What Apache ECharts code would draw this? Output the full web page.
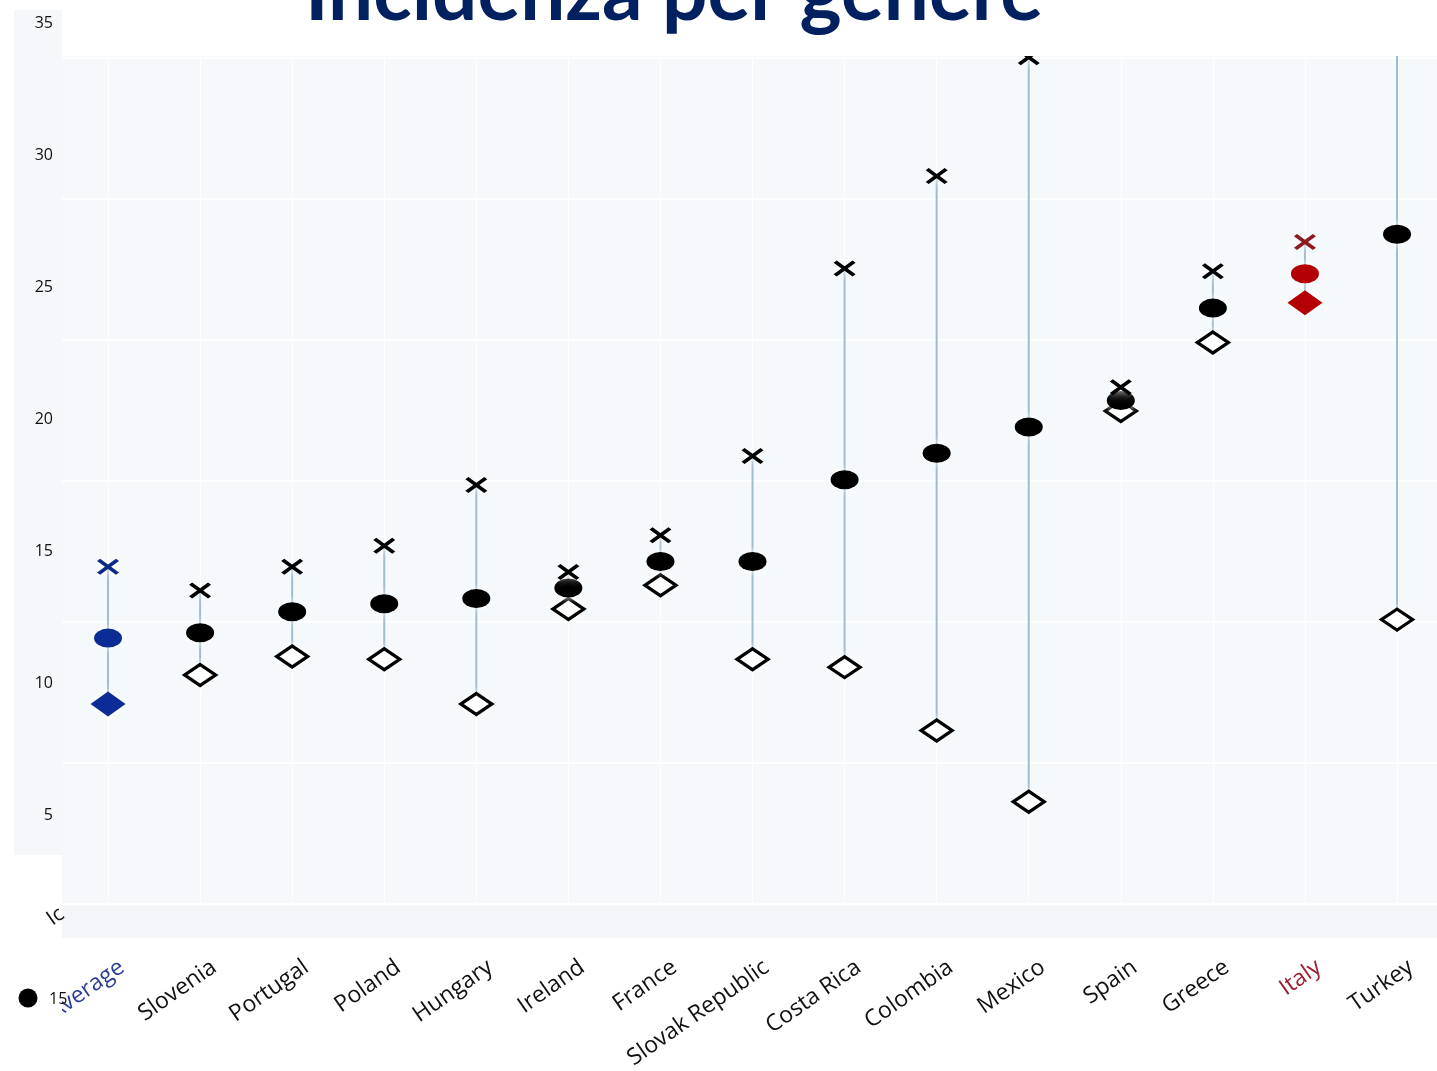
<!DOCTYPE html>
<html>
<head>
<meta charset="utf-8">
<title>Incidenza per genere</title>
<script src="https://cdn.jsdelivr.net/npm/echarts@6/dist/echarts.min.js"></script>
<style>
  html, body { margin: 0; padding: 0; background: #ffffff; }
  #chart { width: 1437px; height: 1071px; }
</style>
</head>
<body>
<div id="chart"></div>
<script>
// Countries, ordered by total incidence
const countries = ['Average', 'Slovenia', 'Portugal', 'Poland', 'Hungary', 'Ireland', 'France',
  'Slovak Republic', 'Costa Rica', 'Colombia', 'Mexico', 'Spain', 'Greece', 'Italy', 'Turkey'];

// Men (cross), total (dot), women (diamond)
const maleValues   = [14.4, 13.5, 14.4, 15.2, 17.5, 14.2, 15.6, 18.6, 25.7, 29.2, 33.7, 21.2, 25.6, 26.7, 41.8];
const totalValues  = [11.7, 11.9, 12.7, 13.0, 13.2, 13.6, 14.6, 14.6, 17.7, 18.7, 19.7, 20.7, 24.2, 25.5, 27.0];
const femaleValues = [ 9.2, 10.3, 11.0, 10.9,  9.2, 12.8, 13.7, 10.9, 10.6,  8.2,  5.5, 20.3, 22.9, 24.4, 12.4];

// Value-axis tick labels
const yTickLabels = [5, 10, 15, 20, 25, 30, 35];

// Highlighted categories and their colours
const highlight = {
  'Average': { male: '#0d2b85', total: '#0b2c94', female: '#0b2c94', label: '#2b3e91' },
  'Italy':   { male: '#8c1a1f', total: '#b40004', female: '#b40004', label: '#9c1c30' }
};

const CROSS = 'path://M0,14 L14,0 L50,36 L86,0 L100,14 L64,50 L100,86 L86,100 L50,64 L14,100 L0,86 L36,50 Z';
const halo = { opacity: 1, shadowBlur: 9, shadowColor: 'rgba(255,255,255,1)' };
const labelFont = '"Open Sans", "Noto Sans", sans-serif';

// Horizontal layout: one category band every 92.07 px, first band starting at x = 62
const PLOT_LEFT = 62;
const PLOT_RIGHT = 1437;
const BAND = 92.07;
const xMaxData = (PLOT_RIGHT - PLOT_LEFT) / BAND - 0.5;   // index at the right edge

function itemsFor(values, key, baseStyle, hiStyle, hiSize) {
  return values.map((v, i) => {
    const h = highlight[countries[i]];
    const item = {
      value: [i, v],
      itemStyle: h ? Object.assign({}, baseStyle, hiStyle(h[key])) : baseStyle
    };
    if (h && hiSize) item.symbolSize = hiSize;
    return item;
  });
}

const chart = echarts.init(document.getElementById('chart'), null, { renderer: 'canvas' });

const option = {
  backgroundColor: '#ffffff',
  animation: false,
  grid: [
    // 0: data area
    { left: PLOT_LEFT, right: 0, top: 56, height: 882, outerBoundsMode: 'none' },
    // 1: value labels strip
    { left: 14, width: 48, top: 23, height: 792, outerBoundsMode: 'none' },
    // 2: horizontal grid lines
    { left: PLOT_LEFT, right: 0, top: 58, height: 846, outerBoundsMode: 'none' },
    // 3: category labels
    { left: PLOT_LEFT + 14, width: BAND * countries.length, top: 56, height: 882, outerBoundsMode: 'none' },
    // 4: vertical grid lines (starting at the first category centre)
    { left: PLOT_LEFT + BAND / 2, right: 0, top: 58, height: 846, outerBoundsMode: 'none' }
  ],
  xAxis: [
    { gridIndex: 0, type: 'value', min: -0.5, max: xMaxData, show: false },
    { gridIndex: 1, type: 'value', show: false },
    { gridIndex: 2, type: 'value', show: false },
    {
      gridIndex: 3, type: 'category', data: countries,
      axisLine: { show: false }, axisTick: { show: false }, splitLine: { show: false },
      axisLabel: {
        interval: 0, rotate: 35, margin: 27,
        fontFamily: labelFont, fontSize: 23,
        color: (value) => (highlight[value] ? highlight[value].label : '#111111')
      }
    },
    {
      gridIndex: 4, type: 'value', min: 0, max: xMaxData, interval: 1,
      axisLine: { show: false }, axisTick: { show: false }, axisLabel: { show: false },
      splitLine: { show: true, lineStyle: { color: '#ffffff', width: 1.2 } }
    }
  ],
  yAxis: [
    { gridIndex: 0, type: 'value', min: 0.34, max: 33.75, show: false },
    {
      gridIndex: 1, type: 'value', position: 'right',
      min: yTickLabels[0], max: yTickLabels[yTickLabels.length - 1], interval: 5,
      axisLine: { show: false }, axisTick: { show: false }, splitLine: { show: false },
      axisLabel: { inside: true, margin: 9, fontFamily: labelFont, fontSize: 16, color: '#111111' }
    },
    {
      gridIndex: 2, type: 'value', min: 0, max: 30, interval: 5,
      axisLine: { show: false }, axisTick: { show: false }, axisLabel: { show: false },
      splitLine: { show: true, lineStyle: { color: '#ffffff', width: 1.6 } }
    },
    { gridIndex: 3, type: 'value', min: 0, max: 1, show: false },
    { gridIndex: 4, type: 'value', min: 0, max: 1, show: false }
  ],
  series: [
    {
      name: 'range', type: 'custom', xAxisIndex: 0, yAxisIndex: 0, clip: true, z: 1,
      data: countries.map((c, i) => [i, Math.min(femaleValues[i], maleValues[i]), Math.max(femaleValues[i], maleValues[i])]),
      encode: { x: 0, y: [1, 2] },
      renderItem(params, api) {
        const lo = api.coord([api.value(0), api.value(1)]);
        const hi = api.coord([api.value(0), api.value(2)]);
        return {
          type: 'line',
          shape: { x1: lo[0], y1: lo[1], x2: hi[0], y2: hi[1] },
          style: { stroke: '#a2bccd', lineWidth: 2 }
        };
      }
    },
    {
      name: 'Donne', type: 'scatter', xAxisIndex: 0, yAxisIndex: 0, z: 3,
      symbol: 'diamond', symbolSize: [31, 21],
      data: itemsFor(femaleValues, 'female',
        Object.assign({ color: '#ffffff', borderColor: '#000000', borderWidth: 3.4 }, halo),
        (c) => ({ color: c, borderWidth: 0 }), [35, 25])
    },
    {
      name: 'Totale', type: 'scatter', xAxisIndex: 0, yAxisIndex: 0, z: 4,
      symbol: 'circle', symbolSize: [28, 19],
      data: itemsFor(totalValues, 'total',
        Object.assign({ color: '#000000' }, halo),
        (c) => ({ color: c }))
    },
    {
      name: 'Uomini', type: 'scatter', xAxisIndex: 0, yAxisIndex: 0, z: 5,
      symbol: CROSS, symbolKeepAspect: false, symbolSize: [22, 16],
      data: itemsFor(maleValues, 'male',
        Object.assign({ color: '#000000' }, halo),
        (c) => ({ color: c }))
    }
  ],
  graphic: [
    // backgrounds
    { type: 'rect', z: -10, silent: true, shape: { x: 62, y: 56, width: 1375, height: 882 }, style: { fill: '#f5f9fc' } },
    { type: 'rect', z: -9, silent: true, shape: { x: 62, y: 906, width: 1375, height: 32 }, style: { fill: '#f2f6f9' } },
    { type: 'rect', z: -10, silent: true, shape: { x: 14, y: 10, width: 48, height: 845 }, style: { fill: '#f5f8fb' } },
    // white margins
    { type: 'rect', z: 50, silent: true, shape: { x: 62, y: 0, width: 1375, height: 56 }, style: { fill: '#ffffff' } },
    { type: 'rect', z: 50, silent: true, shape: { x: 0, y: 940, width: 62, height: 131 }, style: { fill: '#ffffff' } },
    // legend fragment
    { type: 'circle', z: 60, silent: true, shape: { cx: 28, cy: 998, r: 9.5 }, style: { fill: '#000000' } },
    { type: 'text', z: 60, silent: true, style: { text: '15', x: 49, y: 999, fill: '#111111', font: '16px "Open Sans", sans-serif', textAlign: 'left', textVerticalAlign: 'middle' } },
    { type: 'text', z: 60, silent: true, x: 62, y: 912, rotation: 35 * Math.PI / 180,
      style: { text: 'Ic', x: 0, y: 0, fill: '#111111', font: '21px "Open Sans", sans-serif', textAlign: 'right', textVerticalAlign: 'middle' } },
    // title
    { type: 'text', z: 70, silent: true,
      style: { text: 'Incidenza per genere', x: 674, y: -6, fill: '#002060',
        font: 'bold 80px Lato, "Open Sans", sans-serif', textAlign: 'center', textVerticalAlign: 'middle' } }
  ]
};

chart.setOption(option);
</script>
</body>
</html>
